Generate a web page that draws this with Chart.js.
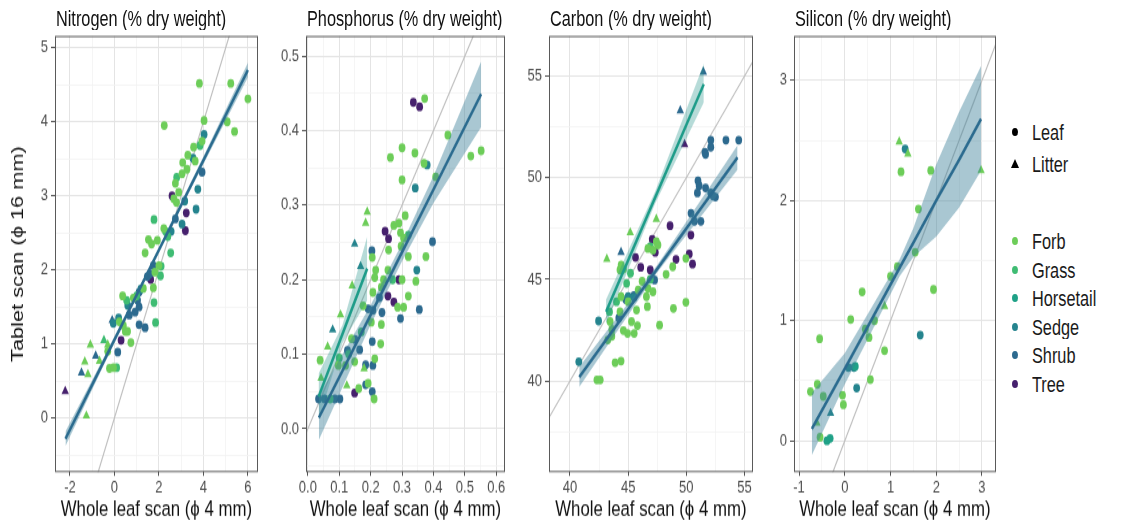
<!DOCTYPE html>
<html><head><meta charset="utf-8">
<script src="https://cdn.jsdelivr.net/npm/chart.js@4.4.1/dist/chart.umd.min.js"></script>
<style>
html,body{margin:0;padding:0;background:#fff;}
#wrap{position:relative;width:1128px;height:525px;overflow:hidden;background:#fff;font-family:"Liberation Sans",Arial,Helvetica,sans-serif;}
#wrap canvas{position:absolute;top:0;}
.ttl{position:absolute;top:9px;font-size:16.3px;line-height:18px;color:#111;white-space:nowrap;transform:scaleY(1.3);transform-origin:0 50%;}
.lg{position:absolute;left:1032px;font-size:16.3px;line-height:18px;color:#1a1a1a;white-space:nowrap;transform:scaleY(1.3);transform-origin:0 50%;}
.dot{position:absolute;left:1012px;width:6px;height:8px;border-radius:50%;}
.tri{position:absolute;left:1011px;width:0;height:0;border-left:4px solid transparent;border-right:4px solid transparent;border-bottom:9px solid #000;}
</style></head><body>
<div id="wrap"></div>
<script>
// ---------- categories ----------
const groupNames = ['Forb','Grass','Horsetail','Sedge','Shrub','Tree'];
const groupColors = ['#6DCD59','#3FBC73','#1FA187','#25848E','#2D6A8F','#46206D'];
const typeNames = ['Leaf','Litter'];
const panelTitles = ['Nitrogen (% dry weight)','Phosphorus (% dry weight)','Carbon (% dry weight)','Silicon (% dry weight)'];
const xAxisTitle = 'Whole leaf scan (\u03D5 4 mm)';
const yAxisTitle = 'Tablet scan (\u03D5 16 mm)';

// ---------- points: [whole leaf, tablet, group index, type index] ----------
const nitrogenPoints = [
 [3.82,4.52,0,0],[5.23,4.52,0,0],[6.0,4.31,0,0],[5.07,4.0,0,0],[5.4,3.87,0,0],[2.24,3.95,0,0],
 [4.03,4.02,0,0],[4.03,3.83,3,0],[3.94,3.74,0,0],[3.85,3.68,1,0],[3.56,3.66,0,0],[3.53,3.51,3,0],
 [3.63,3.47,0,0],[3.94,3.32,4,0],[3.07,3.45,0,0],[3.26,3.36,0,0],[3.04,3.30,0,0],[3.75,3.09,3,0],
 [2.74,3.17,0,0],[2.59,3.0,5,0],[2.67,2.96,0,0],[2.79,2.91,0,0],[2.89,3.05,0,0],[3.16,2.93,3,0],
 [3.67,2.82,3,0],[3.23,2.77,5,0],[3.19,2.53,5,0],[2.74,2.69,4,0],[3.04,2.62,3,0],[1.78,2.68,1,0],
 [2.22,2.56,0,0],[2.3,2.52,1,0],[1.53,2.41,0,0],[1.67,2.35,0,0],[1.93,2.40,0,0],[1.38,2.23,0,0],
 [2.53,2.23,1,0],[2.0,2.06,0,0],[1.75,2.06,4,0],[1.63,1.87,5,0],[1.48,1.91,4,0],[1.82,1.97,0,0],
 [2.07,1.92,1,0],[1.75,1.76,0,0],[1.78,1.56,1,0],[1.85,1.29,1,0],[1.19,1.74,3,0],[1.11,1.70,4,0],
 [0.37,1.65,0,0],[0.55,1.59,1,0],[1.04,1.59,4,0],[1.11,1.50,4,0],[0.93,1.43,4,0],[0.67,1.39,4,0],
 [1.11,1.26,4,0],[1.38,1.22,4,0],[0.19,1.35,3,0],[-0.1,1.32,4,1],[0.22,1.30,0,0],[0.59,1.17,0,0],
 [0.49,1.17,0,0],[0.74,1.02,0,0],[0.30,1.05,5,0],[0.15,0.89,4,0],[-1.08,0.99,0,1],[-0.47,1.05,1,1],
 [-0.3,0.99,0,1],[-0.84,0.84,4,1],[-0.3,0.90,0,0],[-0.67,0.77,0,1],[-0.22,0.67,0,0],[-0.04,0.68,0,0],
 [0.1,0.68,1,0],[-1.33,0.76,0,1],[-1.48,0.61,4,1],[-1.19,0.59,0,1],[-2.21,0.36,5,1],[-1.26,0.03,0,1],
 [0.85,1.62,0,0],[1.3,1.75,0,0],[0.6,1.52,3,0],[1.0,1.65,1,0],[2.1,2.05,1,0],[2.55,2.52,3,0],
 [2.8,3.25,1,0],[3.3,3.55,0,0],[-0.05,1.28,3,0],[0.4,1.25,0,0],[2.4,2.45,1,0],[1.6,1.95,4,0]
];
const phosphorusPoints = [
 [0.30,0.334,0,0],[0.342,0.323,3,0],[0.189,0.291,0,1],[0.184,0.276,0,1],[0.246,0.265,5,0],[0.257,0.255,5,0],
 [0.274,0.273,0,0],[0.29,0.276,0,0],[0.31,0.286,0,0],[0.295,0.263,0,0],[0.305,0.256,0,0],[0.149,0.248,3,1],
 [0.397,0.251,4,0],[0.204,0.239,4,0],[0.257,0.24,0,0],[0.297,0.245,0,0],[0.205,0.23,0,0],[0.32,0.231,0,0],
 [0.376,0.231,0,0],[0.168,0.218,3,1],[0.216,0.213,0,0],[0.255,0.213,0,0],[0.347,0.213,3,0],[0.213,0.203,0,0],
 [0.241,0.2,0,0],[0.29,0.2,5,0],[0.3,0.2,0,0],[0.344,0.198,0,0],[0.141,0.192,0,1],[0.207,0.183,0,0],
 [0.234,0.19,0,0],[0.255,0.178,5,0],[0.32,0.178,0,0],[0.274,0.17,5,0],[0.228,0.176,4,0],[0.286,0.163,0,0],
 [0.305,0.163,0,0],[0.355,0.16,4,0],[0.192,0.161,4,0],[0.207,0.159,4,0],[0.236,0.156,4,0],[0.176,0.165,0,0],
 [0.295,0.148,4,0],[0.234,0.14,0,0],[0.104,0.153,0,1],[0.079,0.133,3,1],[0.202,0.143,0,0],[0.205,0.117,4,0],
 [0.232,0.114,0,0],[0.063,0.11,0,1],[0.165,0.106,4,0],[0.139,0.121,0,0],[0.126,0.105,4,0],[0.039,0.092,0,0],
 [0.149,0.09,0,0],[0.213,0.094,0,0],[0.184,0.086,4,0],[0.207,0.085,4,0],[0.097,0.085,0,0],[0.179,0.081,0,1],
 [0.042,0.068,0,1],[0.124,0.058,0,1],[0.184,0.059,4,0],[0.192,0.061,0,0],[0.162,0.054,0,0],[0.149,0.048,5,0],
 [0.205,0.05,4,0],[0.211,0.04,0,0],[0.034,0.04,4,0],[0.053,0.04,4,0],[0.071,0.04,1,0],[0.086,0.04,4,0],
 [0.102,0.04,4,0],[0.336,0.438,5,0],[0.356,0.432,5,0],[0.372,0.443,0,0],[0.446,0.394,0,0],[0.30,0.377,0,0],
 [0.263,0.364,0,0],[0.341,0.37,0,0],[0.519,0.366,0,0],[0.552,0.373,0,0],[0.37,0.356,0,0],[0.38,0.354,3,0],
 [0.407,0.338,0,0],[0.13,0.10,1,0],[0.12,0.085,0,0],[0.17,0.13,1,0],[0.15,0.12,4,0],[0.1,0.095,1,0],
 [0.27,0.2,1,0],[0.32,0.26,1,0]
];
const carbonPoints = [
 [51.46,55.2,4,1],[49.48,53.3,4,1],[49.85,51.64,5,1],
 [52.1,51.85,4,0],[53.4,51.85,4,0],[54.5,51.85,4,0],[52.1,51.5,4,0],[51.6,51.25,4,0],[51.65,51.15,4,0],
 [51.0,49.85,4,0],[51.1,49.6,4,0],[50.95,49.25,4,0],[51.65,49.5,4,0],[52.1,49.25,4,0],[52.5,49.05,4,0],
 [52.3,49.1,4,0],[50.4,48.25,4,0],[50.7,47.85,4,0],[51.25,47.85,4,0],
 [48.6,47.64,5,0],[50.39,47.18,5,0],[50.25,46.25,5,0],[50.53,45.75,5,0],[49.11,45.98,5,0],[47.33,46.33,5,0],
 [46.9,45.46,5,0],[46.08,45.59,5,0],[45.63,46.08,5,0],[47.07,46.97,5,0],
 [47.42,47.97,0,1],[45.18,47.3,0,1],[43.17,46.0,0,1],[44.39,46.33,4,1],
 [46.7,46.52,0,0],[47.13,46.44,0,0],[47.56,46.69,0,0],[47.42,46.85,0,0],[46.9,46.6,1,0],[49.96,46.03,0,0],
 [48.83,45.62,0,0],[48.26,45.25,0,0],[44.3,45.46,0,0],[44.87,44.8,1,0],[44.39,44.15,0,0],[45.86,44.48,0,0],
 [46.7,44.56,0,0],[47.13,44.39,0,0],[46.57,44.15,0,0],[45.72,43.49,0,0],[46.65,43.66,0,0],[48.89,43.57,0,0],
 [49.96,43.87,0,0],[47.7,42.75,0,0],[43.45,42.92,0,0],[43.6,42.54,0,0],[45.29,42.92,0,0],[44.59,42.48,0,0],
 [44.95,42.34,0,0],[45.52,42.34,0,0],[45.8,42.72,0,0],[43.25,42.02,0,0],[43.88,40.9,0,0],[44.39,40.98,0,0],
 [42.32,40.05,0,0],[42.6,40.05,0,0],[44.3,43.41,0,0],[43.4,43.4,1,0],[44.6,45.5,0,0],[44.4,45.7,0,0],
 [45.2,45.3,1,0],[46.2,44.9,0,0],[46.9,45.0,1,0],[45.0,43.9,0,0],[44.0,43.9,1,0],[43.6,42.2,0,0],
 [42.46,42.95,3,0],[40.76,40.95,3,0],[45.0,44.15,3,0],[45.5,44.1,3,0],
 [47.27,44.97,4,0],[44.8,44.0,4,0],[45.5,44.2,4,0],[44.2,43.1,4,0]
];
const siliconPoints = [
 [1.19,2.49,0,1],[1.32,2.43,3,0],[1.38,2.39,0,1],[1.23,2.24,0,0],[1.88,2.25,0,0],[2.98,2.25,0,1],
 [1.61,1.93,0,0],[1.54,1.57,0,0],[1.94,1.26,0,0],[0.38,1.24,0,0],[0.87,1.12,0,1],[0.13,1.01,0,0],
 [0.65,1.0,0,0],[1.65,0.88,3,0],[-0.55,0.85,0,0],[0.53,0.86,0,0],[0.87,0.75,0,0],[0.08,0.61,3,0],
 [0.2,0.61,3,0],[0.23,0.62,2,0],[0.56,0.51,0,0],[0.26,0.44,3,0],[-0.6,0.47,0,0],[-0.75,0.41,0,0],
 [-0.47,0.37,0,0],[-0.05,0.38,0,0],[-0.03,0.30,0,0],[-0.31,0.23,3,1],[-0.61,0.15,0,1],[-0.54,0.03,0,0],
 [-0.39,0.0,2,0],[-0.32,0.02,2,0],[1.0,1.37,0,0],[1.15,1.45,0,0],[0.45,0.93,0,0]
];

// ---------- fitted lines: [x, fit, lower, upper] ----------
const nitrogenLeafFit = [[-2.2,-0.28,-0.38,-0.18],[0,1.055,1.02,1.09],[2,2.27,2.24,2.30],[4,3.48,3.43,3.53],[6,4.70,4.60,4.80]];
const phosphorusLeafFit = [[0.035,0.015,-0.015,0.045],[0.2,0.153,0.140,0.166],[0.3,0.237,0.225,0.249],[0.4,0.321,0.303,0.339],[0.552,0.449,0.405,0.493]];
const phosphorusLitterFit = [[0.034,0.043,0.012,0.074],[0.11,0.127,0.115,0.139],[0.189,0.215,0.172,0.258]];
const carbonLeafFit = [[40.8,40.2,39.7,40.7],[47.5,45.52,45.35,45.7],[54.4,51.0,50.4,51.6]];
const carbonLitterFit = [[43.1,43.4,42.8,44.0],[47.3,49.0,48.7,49.3],[51.5,54.6,53.7,55.6]];
const siliconLeafFit = [[-0.72,0.10,-0.12,0.40],[0,0.60,0.47,0.73],[0.6,1.02,0.92,1.12],[1.2,1.44,1.37,1.51],[1.5,1.65,1.53,1.77],[2.0,2.0,1.70,2.30],[2.5,2.34,1.94,2.74],[2.98,2.68,2.25,3.12]];

// ---------- tick labels and axis limits ----------
const nitrogenXTicks = ['-2','0','2','4','6'];
const nitrogenYTicks = ['0','1','2','3','4','5'];
const phosphorusXTicks = ['0.0','0.1','0.2','0.3','0.4','0.5','0.6'];
const phosphorusYTicks = ['0.0','0.1','0.2','0.3','0.4','0.5'];
const carbonXTicks = ['40','45','50','55'];
const carbonYTicks = ['40','45','50','55'];
const siliconXTicks = ['-1','0','1','2','3'];
const siliconYTicks = ['0','1','2','3'];
const nitrogenXRange = [-2.67, 6.44], nitrogenYRange = [-0.73, 5.16];
const phosphorusXRange = [-0.006, 0.627], phosphorusYRange = [-0.058, 0.527];
const carbonXRange = [38.2, 55.7], carbonYRange = [35.52, 56.97];
const siliconXRange = [-1.11, 3.30], siliconYRange = [-0.26, 3.37];

// ---------- layout (positions only) ----------
const STRETCH = 1.3;                 // the figure is vertically stretched
const FULL_H = 525, CANVAS_H = Math.round(FULL_H / STRETCH);
const layout = [
  {left:0, width:262, yWidth:55},
  {left:262, width:247, yWidth:44},
  {left:509, width:248, yWidth:40},
  {left:757, width:243, yWidth:37}
];
const leafLineColor = '#2B6B8F', leafBand = 'rgba(60,128,152,0.44)';
const litterLineColor = '#1E9C89', litterBand = 'rgba(40,150,140,0.34)';
const FONT = '"Liberation Sans", Arial, sans-serif';

const panels = [
  {points:nitrogenPoints, fits:[[nitrogenLeafFit,0]], xt:nitrogenXTicks, yt:nitrogenYTicks, xr:nitrogenXRange, yr:nitrogenYRange},
  {points:phosphorusPoints, fits:[[phosphorusLeafFit,0],[phosphorusLitterFit,1]], xt:phosphorusXTicks, yt:phosphorusYTicks, xr:phosphorusXRange, yr:phosphorusYRange},
  {points:carbonPoints, fits:[[carbonLeafFit,0],[carbonLitterFit,1]], xt:carbonXTicks, yt:carbonYTicks, xr:carbonXRange, yr:carbonYRange},
  {points:siliconPoints, fits:[[siliconLeafFit,0]], xt:siliconXTicks, yt:siliconYTicks, xr:siliconXRange, yr:siliconYRange}
];

function tickSet(labels, range) {
  const major = labels.map(Number);
  const step = major[1] - major[0];
  const all = [];
  for (let k = 0; k < 200; k++) {
    const v = +(major[0] - step + k * step / 2).toFixed(6);
    if (v > range[1]) break;
    if (v >= range[0]) all.push(v);
  }
  return {major, all, labels};
}
const isMaj = (ts, v) => ts.major.some(m => Math.abs(m - v) < 1e-7);

function axis(ts, range, isX, panelIndex, lay) {
  const o = {
    type: 'linear', min: range[0], max: range[1],
    afterBuildTicks: s => { s.ticks = ts.all.map(v => ({value: v})); },
    afterFit: s => { if (isX) s.height = 53 / STRETCH; else s.width = lay.yWidth; },
    border: {display: false},
    grid: {
      drawTicks: true, tickLength: isX ? 3 : 4,
      color: c => isMaj(ts, c.tick.value) ? '#E4E4E4' : '#F2F2F2',
      lineWidth: c => isMaj(ts, c.tick.value) ? 1 : 0.8,
      tickColor: c => isMaj(ts, c.tick.value) ? '#555555' : 'rgba(0,0,0,0)',
      tickWidth: 1
    },
    ticks: {
      autoSkip: false, maxRotation: 0, minRotation: 0, padding: isX ? 1 : 3,
      color: '#4D4D4D', font: {family: FONT, size: 13},
      callback: v => { const i = ts.major.findIndex(m => Math.abs(m - v) < 1e-7); return i >= 0 ? ts.labels[i] : ''; }
    },
    title: {display: false}
  };
  if (isX) {
    o.title = {display: true, text: xAxisTitle, color: '#111', padding: {top: 0, bottom: 2},
      font: {family: FONT, size: 16.8}};
  } else if (panelIndex === 0) {
    o.title = {display: true, text: yAxisTitle, color: '#111', padding: {top: 8, bottom: 0},
      font: {family: FONT, size: 16.8}};
  }
  return o;
}

const borderPlugin = {
  id: 'panelBorder',
  afterDatasetsDraw(chart) {
    const a = chart.chartArea, ctx = chart.ctx;
    ctx.save();
    ctx.strokeStyle = '#5A5A5A'; ctx.lineWidth = 1;
    ctx.strokeRect(Math.round(a.left) + 0.5, a.top + 0.4, Math.round(a.right - a.left) - 1, a.bottom - a.top - 0.8);
    ctx.restore();
  }
};

const wrap = document.getElementById('wrap');
panels.forEach((p, i) => {
  const lay = layout[i];
  const cv = document.createElement('canvas');
  cv.width = lay.width; cv.height = CANVAS_H;
  cv.style.left = lay.left + 'px';
  cv.style.width = lay.width + 'px'; cv.style.height = FULL_H + 'px';
  wrap.appendChild(cv);

  const ttl = document.createElement('div');
  ttl.className = 'ttl'; ttl.textContent = panelTitles[i];
  ttl.style.left = (lay.left + lay.yWidth + 1) + 'px';
  wrap.appendChild(ttl);

  const xts = tickSet(p.xt, p.xr), yts = tickSet(p.yt, p.yr);
  const datasets = [];
  // 1:1 reference line (y = x), spanning the axis limits
  const lo = Math.min(p.xr[0], p.yr[0]), hi = Math.max(p.xr[1], p.yr[1]);
  datasets.push({type: 'line', data: [{x: lo, y: lo}, {x: hi, y: hi}], borderColor: '#BDBDBD', borderWidth: 1.1,
    pointRadius: 0, fill: false, order: 6});
  // points by group
  groupNames.forEach((g, gi) => {
    const d = p.points.filter(r => r[2] === gi).map(r => ({x: r[0], y: r[1], t: r[3]}));
    if (!d.length) return;
    datasets.push({
      type: 'scatter', label: g, data: d, order: 5,
      backgroundColor: groupColors[gi], borderColor: groupColors[gi], borderWidth: 0,
      pointStyle: c => (c.raw && c.raw.t === 1) ? 'triangle' : 'circle',
      pointRadius: c => (c.raw && c.raw.t === 1) ? 4.3 : 3.4
    });
  });
  // fits with confidence bands
  p.fits.forEach(([fit, type]) => {
    const band = type === 0 ? leafBand : litterBand;
    const col = type === 0 ? leafLineColor : litterLineColor;
    datasets.push({type: 'line', data: fit.map(r => ({x: r[0], y: r[3]})), borderWidth: 0, pointRadius: 0,
      backgroundColor: band, fill: '+1', order: 3, tension: 0});
    datasets.push({type: 'line', data: fit.map(r => ({x: r[0], y: r[2]})), borderWidth: 0, pointRadius: 0,
      fill: false, order: 3, tension: 0});
    datasets.push({type: 'line', label: typeNames[type] + ' fit', data: fit.map(r => ({x: r[0], y: r[1]})),
      borderColor: col, borderWidth: 2.5, pointRadius: 0, fill: false, order: 2, tension: 0});
  });

  new Chart(cv, {
    type: 'scatter',
    data: {datasets},
    options: {
      responsive: false, animation: false, events: [], devicePixelRatio: 1,
      layout: {padding: {top: 36 / STRETCH, right: 2, left: 0, bottom: 0}},
      plugins: {legend: {display: false}, tooltip: {enabled: false}, title: {display: false}},
      scales: {x: axis(xts, p.xr, true, i, lay), y: axis(yts, p.yr, false, i, lay)}
    },
    plugins: [borderPlugin]
  });
});

// ---------- legend ----------
const shapeRows = [132, 164];
typeNames.forEach((t, k) => {
  const s = document.createElement('div');
  s.className = k === 0 ? 'dot' : 'tri';
  if (k === 0) { s.style.background = '#000'; s.style.top = (shapeRows[k] - 4) + 'px'; }
  else { s.style.top = (shapeRows[k] - 5) + 'px'; }
  wrap.appendChild(s);
  const l = document.createElement('div');
  l.className = 'lg'; l.textContent = t; l.style.top = (shapeRows[k] - 9) + 'px';
  wrap.appendChild(l);
});
groupNames.forEach((g, k) => {
  const y = 241 + k * 28.6;
  const s = document.createElement('div');
  s.className = 'dot'; s.style.background = groupColors[k]; s.style.top = (y - 4) + 'px';
  wrap.appendChild(s);
  const l = document.createElement('div');
  l.className = 'lg'; l.textContent = g; l.style.top = (y - 9) + 'px';
  wrap.appendChild(l);
});
</script>
</body></html>
